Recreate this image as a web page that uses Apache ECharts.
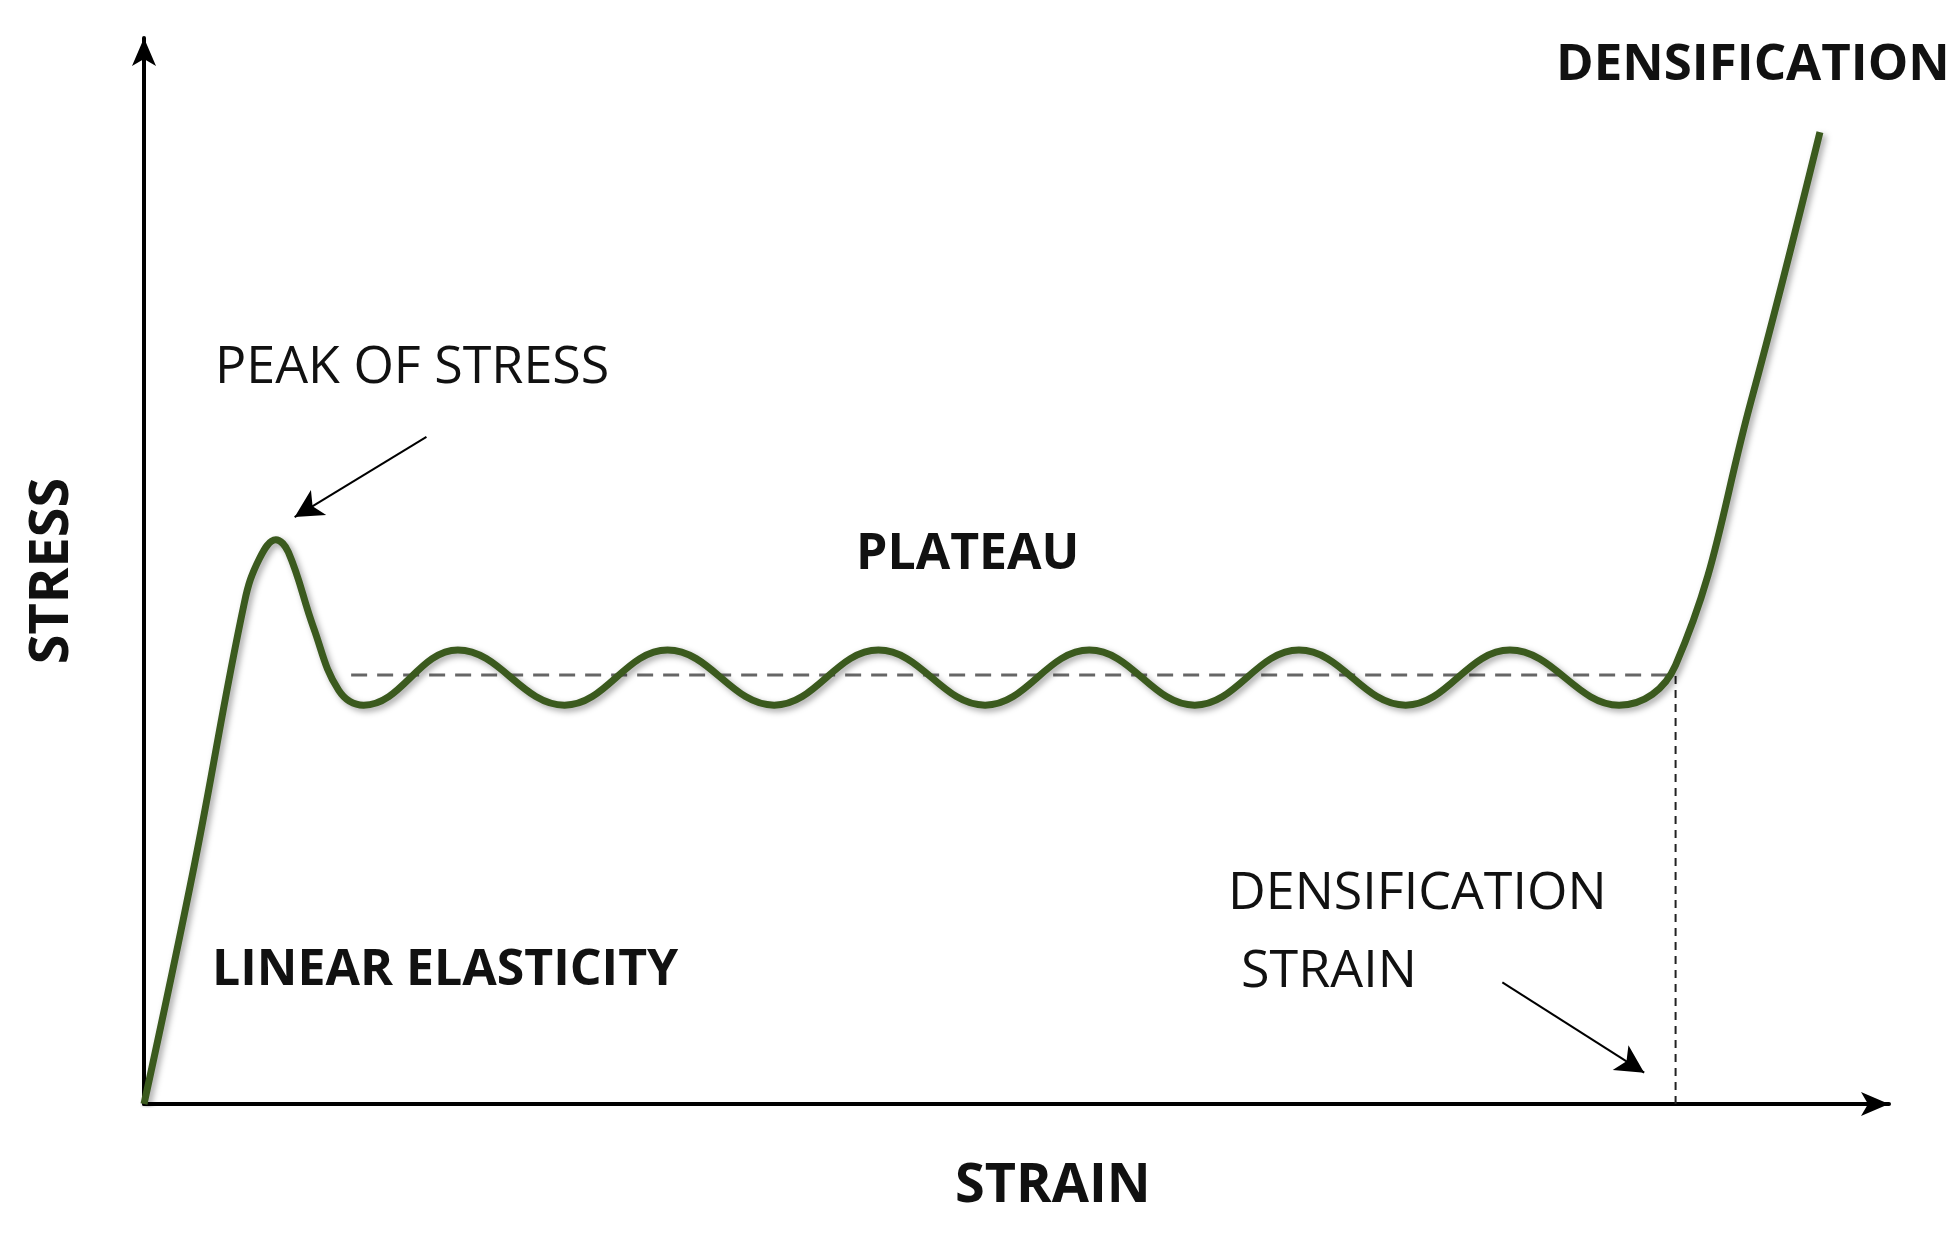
<!DOCTYPE html>
<html><head><meta charset="utf-8">
<script src="https://cdn.jsdelivr.net/npm/echarts@6/dist/echarts.min.js"></script>
<style>html,body{margin:0;padding:0;background:#fff}#c{width:1958px;height:1246px}</style>
</head><body><div id="c"></div>
<script>
const curveX = [0,40,80,92,105,115,135,155,175,250,335,417,502,585,670,753,837,920,1005,1088,1175,1220,1280,1335];
const curveY = [0,190,400,435,450,440,380,330,318,362,318,362,318,362,318,362,318,362,318,362,318,350,560,775];
const plateauLevel = 342;
const plateauStartX = 165;
const densX = 1220;
const f = "'Open Sans', 'Noto Sans', sans-serif";
const chart = echarts.init(document.getElementById('c'));
const ann = (t, l, tp, bold, size, extra) => Object.assign({type:'text', left:l, top:tp, style:{text:t, font:(bold?'bold ':'')+size+'px '+f, fill:'#111'}}, extra||{});
chart.setOption({
  animation:false,
  grid:{left:144, right:69, top:38, bottom:142},
  xAxis:{type:'value', min:0, max:1390, axisLine:{lineStyle:{color:'#000', width:4}, symbol:['none','arrow'], symbolSize:[18,28]}, axisTick:{show:false}, axisLabel:{show:false}, splitLine:{show:false}},
  yAxis:{type:'value', min:0, max:850, axisLine:{show:true, lineStyle:{color:'#000', width:4}, symbol:['none','arrow'], symbolSize:[18,28]}, axisTick:{show:false}, axisLabel:{show:false}, splitLine:{show:false}},
  series:[
    {type:'line', data:[[plateauStartX,plateauLevel],[densX,plateauLevel]], symbol:'none', lineStyle:{color:'#666', width:3, type:[16,10]}},
    {type:'line', data:[[densX,0],[densX,plateauLevel]], symbol:'none', lineStyle:{color:'#222', width:2, type:[8,6]}},
    {type:'line', smooth:0.4, data:curveX.map((x,i)=>[x,curveY[i]]), symbol:'none',
     lineStyle:{color:'#3b5a1e', width:7, shadowColor:'rgba(0,0,0,0.35)', shadowBlur:6, shadowOffsetX:3, shadowOffsetY:3},
     markLine:{silent:true, symbol:['none','arrow'], symbolSize:[22,28], label:{show:false}, lineStyle:{color:'#000', width:2, type:'solid'},
       data:[[{coord:[225,532]},{coord:[120,468]}],[{coord:[1082,97]},{coord:[1195,25]}]]}}
  ],
  graphic:[
    ann('PEAK OF STRESS',215,342,false,52),
    ann('PLATEAU',856,530,true,50),
    ann('DENSIFICATION',1556,40,true,51),
    ann('DENSIFICATION',1228,868,false,52),
    ann('STRAIN',1241,946,false,52),
    ann('LINEAR ELASTICITY',212,946,true,50),
    ann('STRAIN',955,1160,true,54),
    {type:'text', x:53, y:571, rotation:Math.PI/2, style:{text:'STRESS', font:'bold 54px '+f, fill:'#111', textAlign:'center', textVerticalAlign:'middle'}}
  ]
});
</script></body></html>
